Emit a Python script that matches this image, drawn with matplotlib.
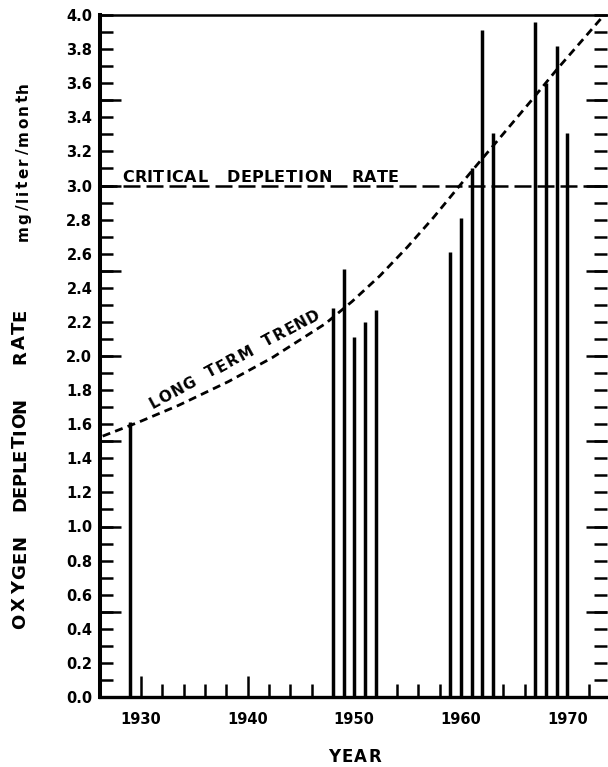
import math
import numpy as np
import matplotlib
matplotlib.use("Agg")
import matplotlib.pyplot as plt
from matplotlib.ticker import FixedLocator, FuncFormatter
from matplotlib.textpath import TextPath
from matplotlib.font_manager import FontProperties

# ── Data ───────────────────────────────────────────────────────────────────────
years = [1929, 1948, 1949, 1950, 1951, 1952, 1959, 1960, 1961, 1962, 1963,
         1967, 1968, 1969, 1970]
rates = [1.61, 2.28, 2.51, 2.11, 2.20, 2.27, 2.61, 2.81, 3.10, 3.91, 3.31,
         3.96, 3.60, 3.82, 3.31]

trend_years = [1926.4, 1929.7, 1933.5, 1938.2, 1942.3, 1947.3, 1949.8, 1952.4,
               1955.0, 1957.4, 1959.9, 1961.5, 1963.4, 1966.5, 1969.0, 1971.5,
               1973.3]
trend_rates = [1.53, 1.61, 1.71, 1.85, 1.99, 2.19, 2.32, 2.47, 2.64, 2.81,
               3.00, 3.12, 3.26, 3.49, 3.68, 3.86, 3.99]

critical_rate = 3.0

x_major = [1930, 1940, 1950, 1960, 1970]
x_minor = list(range(1932, 1973, 2))
y_ticks = [i / 10 for i in range(41)]
y_long = [0.5, 1.0, 1.5, 2.0, 2.5, 3.0, 3.5]

# ── Figure ─────────────────────────────────────────────────────────────────────
W, H, DPI = 608, 767, 100
plt.rcParams["font.family"] = "DejaVu Sans"
plt.rcParams["font.weight"] = "bold"

fig = plt.figure(figsize=(W / DPI, H / DPI), dpi=DPI)
ax = fig.add_axes([100 / W, 70 / H, 507 / W, 682 / H])

ax.vlines(years, 0, rates, color="black", lw=2.5, zorder=3)
ax.axhline(critical_rate, color="black", lw=1.8, dashes=(6.8, 2.4), zorder=4)
ax.plot(trend_years, trend_rates, color="black", lw=2.0, dashes=(2.9, 1.9), zorder=4)

ax.set_xlim(1926.15, 1973.71)
ax.set_ylim(0, 4.0)

# ticks
ax.xaxis.set_major_locator(FixedLocator(x_major))
ax.xaxis.set_minor_locator(FixedLocator(x_minor))
ax.yaxis.set_major_locator(FixedLocator(y_ticks))
ax.yaxis.set_minor_locator(FixedLocator(y_long))
ax.yaxis.remove_overlapping_locs = False
ax.yaxis.set_major_formatter(FuncFormatter(
    lambda v, p: f"{v:.1f}" if round(v * 10) % 2 == 0 else ""))

ax.tick_params(axis="x", which="major", direction="in", length=15, width=1.8,
               top=False, labelsize=10.5, pad=11)
ax.tick_params(axis="x", which="minor", direction="in", length=9.4, width=1.8,
               top=False)
ax.tick_params(axis="y", which="major", direction="in", length=9.4, width=1.8,
               left=True, right=True, labelsize=10.5, pad=5.5)
ax.tick_params(axis="y", which="minor", direction="in", length=15, width=1.8,
               left=True, right=True)

ax.spines["left"].set_linewidth(2.9)
ax.spines["bottom"].set_linewidth(2.4)
ax.spines["top"].set_linewidth(1.8)
ax.spines["right"].set_visible(False)


# ── spaced lettering (pixel coords, y down) ────────────────────────────────────
def tracked(text, start, end, size, space=8):
    fp = FontProperties(family="DejaVu Sans", weight="bold", size=size)
    widths = []
    for ch in text:
        if ch == " ":
            widths.append(space)
        else:
            ext = TextPath((0, 0), ch, size=size, prop=fp).get_extents()
            widths.append(ext.width * DPI / 72)
    (x0, y0), (x1, y1) = start, end
    L = math.hypot(x1 - x0, y1 - y0)
    track = (L - sum(widths)) / max(len(text) - 1, 1)
    ux, uy = (x1 - x0) / L, (y1 - y0) / L
    angle = math.degrees(math.atan2(-(y1 - y0), x1 - x0))
    pos = 0.0
    for ch, w in zip(text, widths):
        if ch != " ":
            c = pos + w / 2
            fig.text((x0 + ux * c) / W, 1 - (y0 + uy * c) / H, ch,
                     fontproperties=fp, rotation=angle, rotation_mode="anchor",
                     ha="center", va="baseline")
        pos += w + track


# axis titles
tracked("OXYGEN", (25, 628), (25, 537), 13)
tracked("DEPLETION", (25, 510), (25, 400), 13)
tracked("RATE", (25, 363), (25, 310), 13)
tracked("mg/liter/month", (28, 240), (28, 83), 11)
tracked("YEAR", (328, 762), (380, 762), 12)

# in-plot labels
tracked("CRITICAL", (123, 182), (207, 182), 11.5)
tracked("DEPLETION", (228, 182), (330, 182), 11.5)
tracked("RATE", (352, 182), (397, 182), 11.5)
tracked("LONG TERM TREND", (153, 409), (320, 318), 11, space=8)

fig.savefig("out.png", dpi=DPI)
